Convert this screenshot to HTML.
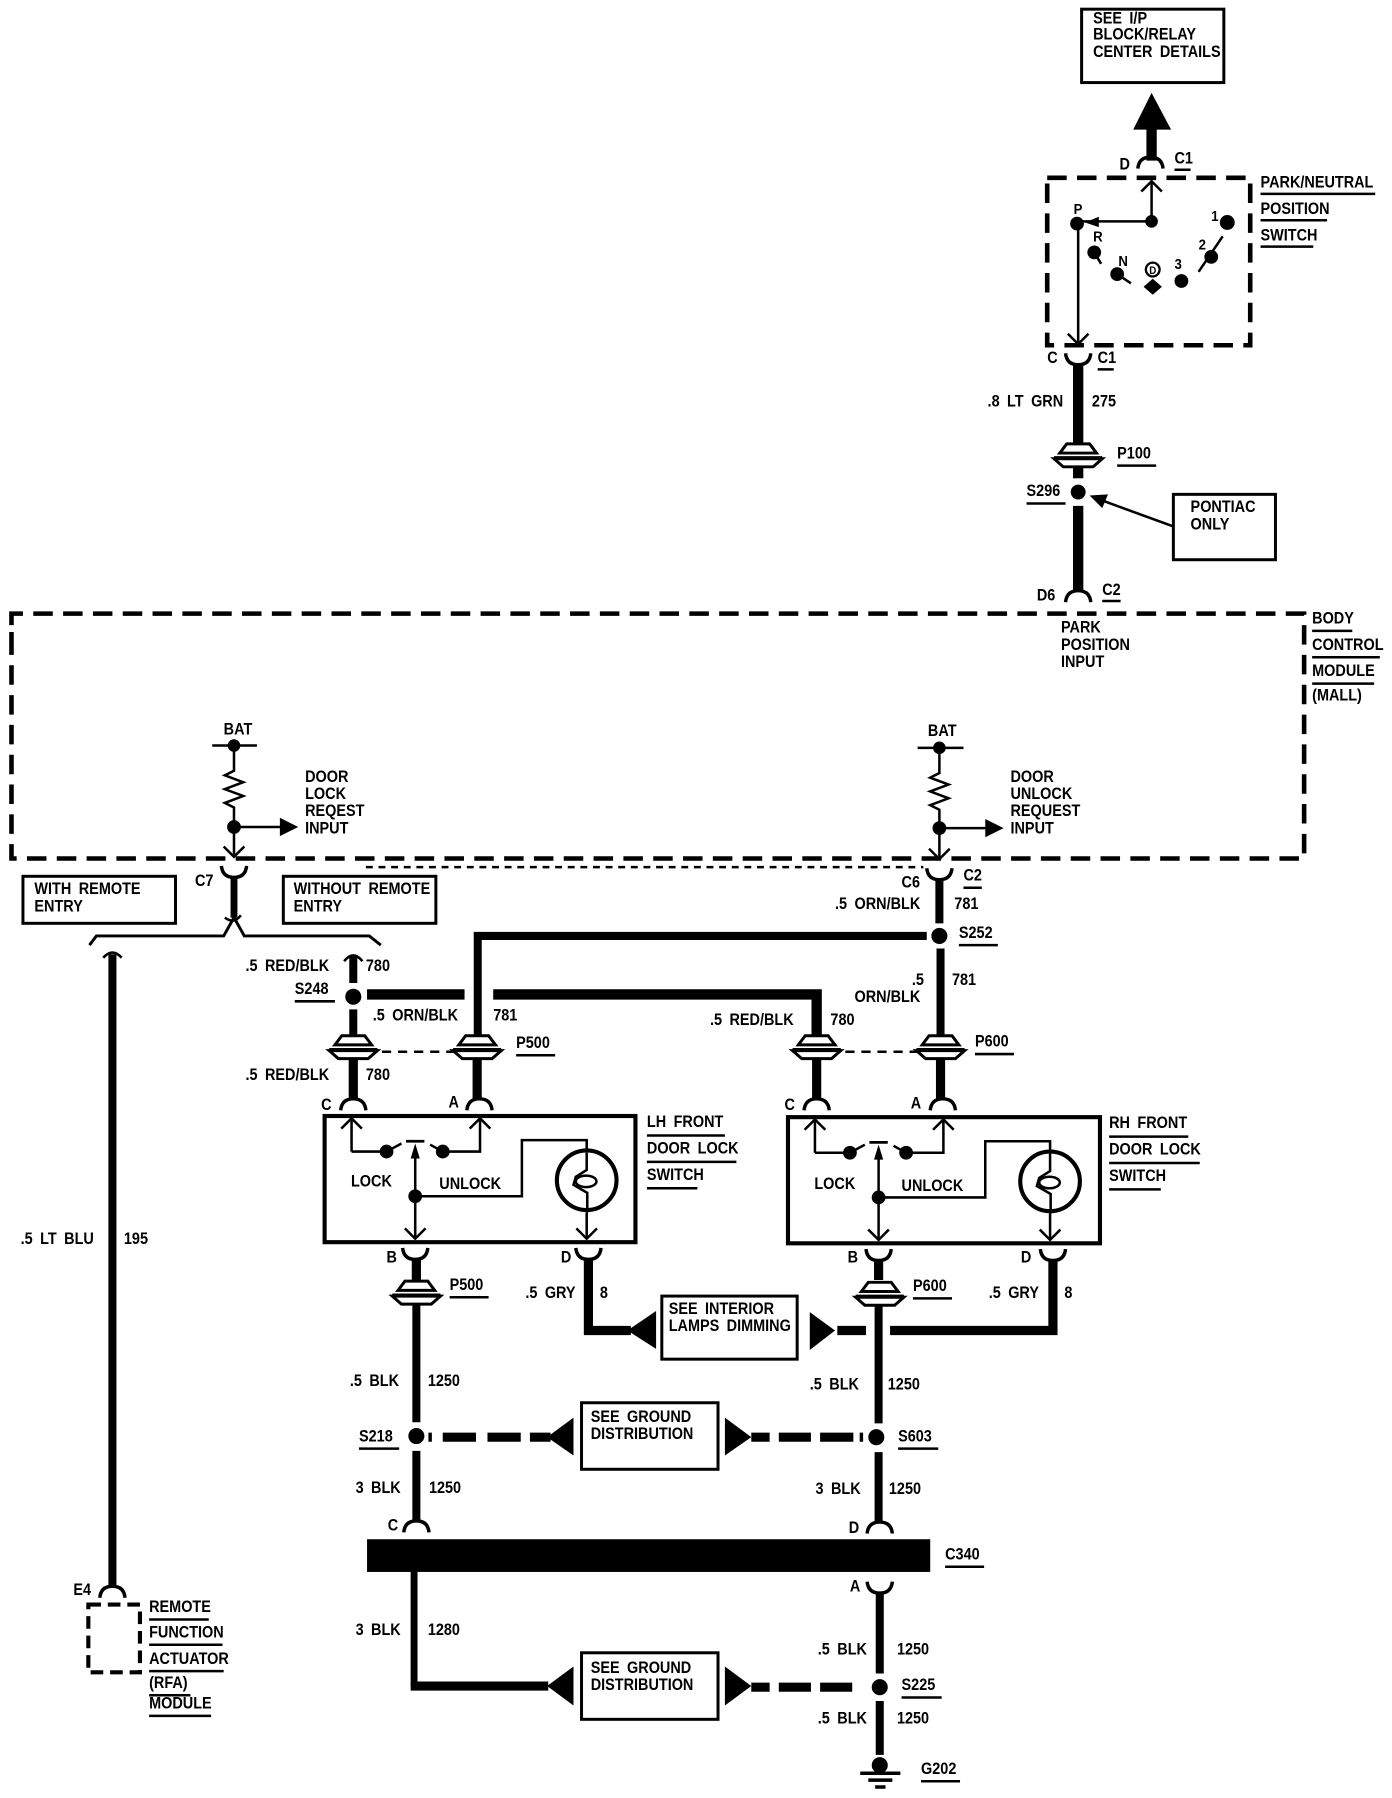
<!DOCTYPE html>
<html><head><meta charset="utf-8"><style>
html,body{margin:0;padding:0;background:#fff;width:1392px;height:1798px;overflow:hidden}
svg{display:block}
text{font-family:"Liberation Sans",sans-serif;font-weight:bold;font-size:12.6px;word-spacing:3px;fill:#000;transform-box:fill-box;transform-origin:left bottom;transform:scaleY(1.12)}
.w{fill:none;stroke:#000;stroke-linecap:butt;stroke-linejoin:miter}
.t{fill:none;stroke:#000;stroke-width:2.2}
.b{fill:#fff;stroke:#000;stroke-width:2.6}
</style></head><body>
<svg width="1392" height="1798" viewBox="0 0 1213.6 1567.6" xmlns="http://www.w3.org/2000/svg">
<defs>
<path id="a" d="M-11,9 Q-10,-1 0,-1 Q10,-1 11,9" fill="none" stroke="#000" stroke-width="3"/>
<path id="u" d="M-11,-9 Q-10,1 0,1 Q10,1 11,-9" fill="none" stroke="#000" stroke-width="3"/>
<g id="p"><rect x="-16" y="-10" width="32" height="20" fill="#fff"/>
<path d="M-16,-2 L-10,-10 H10 L16,-2 Z" fill="#fff" stroke="#000" stroke-width="2.6"/>
<path d="M-21,3 L-13,10 H13 L21,3 Z" fill="#fff" stroke="#000" stroke-width="2.6"/>
<path d="M-21,2 H21" stroke="#000" stroke-width="2.6"/></g>
<path id="au" d="M-9,9 L0,0 L9,9" fill="none" stroke="#000" stroke-width="2.2"/>
<path id="ad" d="M-9,-9 L0,0 L9,-9" fill="none" stroke="#000" stroke-width="2.2"/>
<g id="sw">
<path class="t" d="M306.500,1004 V975 M306.500,1004 H337 M337,1004 L350,997 M386,1004 L375,998 M386,1004 H418.500 V975"/>
<use href="#au" x="306.500" y="975"/><use href="#au" x="418.500" y="975"/>
<circle cx="337" cy="1004" r="6"/><circle cx="386" cy="1004" r="6"/>
<path d="M354,995 H370" stroke="#000" stroke-width="2.4"/>
<path d="M362,997 L358,1010 H366 Z"/>
<path class="t" d="M362,1005 V1079 M362,1043 H455 V994 H511.500 V1005 M511.500,1057 V1079"/>
<use href="#ad" x="362" y="1080"/><use href="#ad" x="511.500" y="1080"/>
<circle cx="362" cy="1043" r="6"/>
<circle cx="511.500" cy="1029" r="26" fill="none" stroke="#000" stroke-width="3.6"/>
<path class="t" d="M511.500,1005 V1020 L502,1026 L500,1033 L512,1040 V1057"/>
<ellipse cx="511" cy="1030" rx="9" ry="5" fill="none" stroke="#000" stroke-width="2.2"/>
</g>
</defs>

<!-- top box -->
<rect class="b" x="943" y="8" width="124" height="64"/>
<text x="953" y="21">SEE I/P</text><text x="953" y="35">BLOCK/RELAY</text><text x="953" y="50">CENTER DETAILS</text>
<path d="M1004,81 L988,113 H1021 Z"/>
<path class="w" stroke-width="9" d="M1004,110 V140"/>
<use href="#a" x="1003" y="138"/>
<text x="976" y="148">D</text><text x="1024" y="143">C1</text><path class="t" d="M1024,148 H1038"/>

<!-- park switch -->
<rect x="913" y="155" width="177" height="146" fill="none" stroke="#000" stroke-width="4" stroke-dasharray="17 9"/>
<path class="t" d="M1004,193 V158 M1004,193 H940 M940,195 L940,300"/>
<use href="#au" x="1004" y="158"/><use href="#ad" x="940" y="300"/>
<path d="M946,194 L958,189 V198 Z"/>
<circle cx="1004" cy="193" r="5.500"/><circle cx="939" cy="195" r="6"/>
<text x="936" y="187" style="font-size:11.5px">P</text>
<text x="953" y="211" style="font-size:11.5px">R</text><circle cx="954" cy="220" r="6"/><path class="t" d="M954,220 L960,230"/>
<text x="975" y="232" style="font-size:11.5px">N</text><circle cx="974" cy="239" r="6"/><path class="t" d="M974,239 L986,247"/>
<circle cx="1005" cy="235" r="6" fill="none" stroke="#000" stroke-width="2"/><text x="1002" y="239" style="font-size:8.5px">D</text>
<path d="M997,250 L1005,243 L1013,250 L1005,257 Z"/>
<text x="1024" y="235" style="font-size:11.5px">3</text><circle cx="1030" cy="245" r="6"/>
<text x="1045" y="218" style="font-size:11.5px">2</text><circle cx="1056" cy="224" r="6"/><path class="t" d="M1045,237 L1066,206"/>
<text x="1056" y="193" style="font-size:11.5px">1</text><circle cx="1070" cy="194" r="6.500"/>
<text x="1099" y="164">PARK/NEUTRAL</text><path class="t" d="M1099,169 H1199"/>
<text x="1099" y="187">POSITION</text><path class="t" d="M1099,192 H1157"/>
<text x="1099" y="210">SWITCH</text><path class="t" d="M1099,215 H1145"/>

<use href="#u" x="940" y="317"/>
<path class="w" stroke-width="9" d="M940,317 V386"/>
<text x="913" y="317">C</text><text x="957" y="317">C1</text><path class="t" d="M957,322 H971"/>
<text x="861" y="355">.8 LT GRN</text><text x="952" y="355">275</text>
<use href="#p" x="940" y="397"/>
<text x="974" y="400">P100</text><path class="t" d="M974,406 H1008"/>
<path class="w" stroke-width="9" d="M940,407 V417"/>
<circle cx="940" cy="429" r="6.500"/>
<text x="895" y="433">S296</text><path class="t" d="M895,439 H929"/>
<path class="t" d="M1023,459 L960,436"/><path d="M950,432 L966,431 L961,443 Z"/>
<rect class="b" x="1023" y="431" width="89" height="57"/>
<text x="1038" y="447">PONTIAC</text><text x="1038" y="462">ONLY</text>
<path class="w" stroke-width="9" d="M940,441 V516"/>
<use href="#a" x="940" y="516"/>
<text x="904" y="524">D6</text><text x="961" y="519">C2</text><path class="t" d="M961,524 H977"/>
<text x="925" y="552">PARK</text><text x="925" y="567">POSITION</text><text x="925" y="582">INPUT</text>

<!-- BCM -->
<path class="w" stroke-width="4" stroke-dasharray="17 9" d="M10,568 V535 H1137 V748.500 H10 V535"/>
<text x="1144" y="544">BODY</text><path class="t" d="M1144,550 H1179"/>
<text x="1144" y="567">CONTROL</text><path class="t" d="M1144,573 H1203"/>
<text x="1144" y="590">MODULE</text><path class="t" d="M1144,596 H1198"/>
<text x="1144" y="611">(MALL)</text>

<!-- left BAT -->
<text x="195" y="641">BAT</text>
<path class="t" d="M185,650 H224 M204,650 V672 L196,676 L212,682 L196,688 L212,694 L196,700 L204,704 V745 M204,721 H246"/>
<circle cx="204" cy="650" r="5.500"/><circle cx="204" cy="721" r="6"/>
<path d="M244,713 L260,721 L244,729 Z"/>
<use href="#ad" x="204" y="747"/>
<text x="266" y="682">DOOR</text><text x="266" y="697">LOCK</text><text x="266" y="712">REQEST</text><text x="266" y="727">INPUT</text>
<use href="#u" x="204" y="764"/>
<path class="w" stroke-width="6" d="M204,764 V800"/>
<path class="t" d="M196,800 Q204,806 210,798"/>
<text x="170" y="773">C7</text>
<rect class="b" x="20" y="764" width="133" height="41"/>
<text x="30" y="780">WITH REMOTE</text><text x="30" y="795">ENTRY</text>
<rect class="b" x="247" y="764" width="133" height="41"/>
<text x="256" y="780">WITHOUT REMOTE</text><text x="256" y="795">ENTRY</text>
<path class="w" stroke-width="2.600" d="M78,824 L84,816 H195 L204,800 L213,816 H322 L332,824"/>
<path class="t" d="M319,756 H805" stroke-dasharray="6 5"/>

<!-- left wire -->
<path class="w" stroke-width="7" d="M98,832 V1384"/>
<path class="t" d="M90,835 Q98,826 106,835"/>
<text x="18" y="1085">.5 LT BLU</text><text x="108" y="1085">195</text>
<use href="#a" x="98" y="1384"/>
<text x="64" y="1391">E4</text>
<rect x="77" y="1399" width="45" height="59" fill="none" stroke="#000" stroke-width="3.600" stroke-dasharray="11 6"/>
<text x="130" y="1406">REMOTE</text><path class="t" d="M130,1412 H182"/>
<text x="130" y="1428">FUNCTION</text><path class="t" d="M130,1434 H194"/>
<text x="130" y="1451">ACTUATOR</text><path class="t" d="M130,1457 H195"/>
<text x="130" y="1472">(RFA)</text><path class="t" d="M130,1478 H166"/>
<text x="130" y="1490">MODULE</text><path class="t" d="M130,1496 H184"/>

<!-- right BAT -->
<text x="809" y="642">BAT</text>
<path class="t" d="M800,652 H840 M819,652 V674 L811,678 L827,684 L811,690 L827,696 L811,702 L819,706 V747 M819,722 H862"/>
<circle cx="819" cy="652" r="5.500"/><circle cx="819" cy="722" r="6"/>
<path d="M859,714 L875,722 L859,730 Z"/>
<use href="#ad" x="819" y="749"/>
<text x="881" y="682">DOOR</text><text x="881" y="697">UNLOCK</text><text x="881" y="712">REQUEST</text><text x="881" y="727">INPUT</text>
<use href="#u" x="819" y="766"/>
<path class="w" stroke-width="7" d="M819,766 V805"/>
<text x="786" y="774">C6</text><text x="840" y="768">C2</text><path class="t" d="M840,774 H856"/>
<text x="728" y="793">.5 ORN/BLK</text><text x="832" y="793">781</text>
<circle cx="819" cy="816" r="7"/>
<text x="836" y="818">S252</text><path class="t" d="M836,824 H870"/>
<path class="w" stroke-width="7" d="M808,816 H416.500 V902"/>
<path class="w" stroke-width="7" d="M820,827 V903"/>
<text x="795" y="859">.5</text><text x="830" y="859">781</text><text x="745" y="874">ORN/BLK</text>

<!-- S248 -->
<path class="w" stroke-width="7" d="M308,834 V857 M308,880 V903"/>
<path class="t" d="M300,838 Q308,828 316,838"/>
<circle cx="308" cy="869" r="7"/>
<text x="214" y="847">.5 RED/BLK</text><text x="319" y="847">780</text>
<text x="257" y="867">S248</text><path class="t" d="M257,873 H292"/>
<path class="w" stroke-width="9" d="M320,867 H405"/>
<path class="w" stroke-width="9" d="M430,867 H712 V904"/>
<text x="325" y="890">.5 ORN/BLK</text><text x="430" y="890">781</text>
<text x="619" y="894">.5 RED/BLK</text><text x="724" y="894">780</text>
<use href="#p" x="308" y="913"/><use href="#p" x="416" y="913"/><use href="#p" x="712" y="913"/><use href="#p" x="820" y="913"/>
<path class="t" d="M333,917 H398 M737,917 H800" stroke-dasharray="8 6"/>
<text x="450" y="914">P500</text><path class="t" d="M450,920 H484"/>
<text x="850" y="913">P600</text><path class="t" d="M850,919 H884"/>
<text x="214" y="942">.5 RED/BLK</text><text x="319" y="942">780</text>
<path class="w" stroke-width="8" d="M308,924 V958 M416,924 V958 M712,924 V958 M820,924 V958"/>
<use href="#a" x="308" y="959"/><use href="#a" x="418" y="959"/><use href="#a" x="712" y="959"/><use href="#a" x="822" y="959"/>
<text x="280" y="968">C</text><text x="391" y="966">A</text><text x="684" y="968">C</text><text x="794" y="967">A</text>

<!-- switches -->
<rect x="283" y="973" width="271" height="110" fill="none" stroke="#000" stroke-width="3.600"/>
<use href="#sw"/>
<text x="306" y="1035">LOCK</text><text x="383" y="1037">UNLOCK</text>
<text x="564" y="983">LH FRONT</text><path class="t" d="M564,990 H632"/>
<text x="564" y="1006">DOOR LOCK</text><path class="t" d="M564,1013 H642"/>
<text x="564" y="1029">SWITCH</text><path class="t" d="M564,1036 H608"/>
<rect x="687" y="974" width="272" height="110" fill="none" stroke="#000" stroke-width="3.600"/>
<use href="#sw" x="404" y="1"/>
<text x="710" y="1037">LOCK</text><text x="786" y="1039">UNLOCK</text>
<text x="967" y="984">RH FRONT</text><path class="t" d="M967,991 H1036"/>
<text x="967" y="1007">DOOR LOCK</text><path class="t" d="M967,1014 H1046"/>
<text x="967" y="1030">SWITCH</text><path class="t" d="M967,1037 H1012"/>

<!-- below switches -->
<use href="#u" x="362" y="1097"/><use href="#u" x="513" y="1097"/><use href="#u" x="766" y="1098"/><use href="#u" x="918" y="1098"/>
<text x="337" y="1101">B</text><text x="489" y="1101">D</text><text x="739" y="1101">B</text><text x="890" y="1101">D</text>
<path class="w" stroke-width="8" d="M363,1097 V1116 M766,1098 V1116"/>
<use href="#p" x="363" y="1127"/><use href="#p" x="767" y="1128"/>
<text x="392" y="1125">P500</text><path class="t" d="M392,1131 H426"/>
<text x="796" y="1126">P600</text><path class="t" d="M796,1132 H830"/>
<text x="458" y="1132">.5 GRY</text><text x="523" y="1132">8</text>
<text x="862" y="1132">.5 GRY</text><text x="928" y="1132">8</text>
<path class="w" stroke-width="8" d="M513,1097 V1160 H550"/>
<path d="M547,1160 L572,1143 V1176 Z"/>
<rect class="b" x="577" y="1130" width="118" height="55"/>
<text x="583" y="1146">SEE INTERIOR</text><text x="583" y="1161">LAMPS DIMMING</text>
<path d="M706,1144 L728,1160 L706,1177 Z"/>
<path class="w" stroke-width="8" d="M730,1160 H755"/>
<path class="w" stroke-width="8" d="M776,1160 H918 V1098"/>

<path class="w" stroke-width="7" d="M363,1138 V1240 M363,1265 V1326"/>
<path class="w" stroke-width="7" d="M766,1139 V1241 M766,1266 V1327"/>
<text x="305" y="1209">.5 BLK</text><text x="373" y="1209">1250</text>
<text x="706" y="1212">.5 BLK</text><text x="774" y="1212">1250</text>
<circle cx="363" cy="1252" r="7"/><circle cx="764" cy="1253" r="7"/>
<text x="313" y="1257">S218</text><path class="t" d="M313,1263 H348"/>
<text x="783" y="1257">S603</text><path class="t" d="M783,1263 H818"/>
<path class="w" stroke-width="8" d="M386,1253 H415 M425,1253 H454 M462,1253 H480"/>
<path class="w" stroke-width="3" d="M375,1249 V1257 M751,1249 V1257"/>
<path d="M477,1253 L500,1236 V1269 Z"/>
<rect class="b" x="507" y="1223" width="119" height="58"/>
<text x="515" y="1240">SEE GROUND</text><text x="515" y="1255">DISTRIBUTION</text>
<path d="M632,1236 L655,1253 L632,1269 Z"/>
<path class="w" stroke-width="8" d="M655,1253 H671 M679,1253 H707 M715,1253 H744"/>
<text x="310" y="1302">3 BLK</text><text x="374" y="1302">1250</text>
<text x="711" y="1303">3 BLK</text><text x="775" y="1303">1250</text>
<use href="#a" x="363" y="1327"/><use href="#a" x="767" y="1328"/>
<text x="338" y="1335">C</text><text x="740" y="1337">D</text>
<rect x="320" y="1342" width="491" height="28.500"/>
<text x="824" y="1360">C340</text><path class="t" d="M824,1366 H858"/>
<path class="w" stroke-width="6" d="M361,1370 V1470"/>
<path class="w" stroke-width="8" d="M358,1470 H478"/>
<text x="310" y="1426">3 BLK</text><text x="373" y="1426">1280</text>
<path d="M477,1470 L500,1453 V1487 Z"/>
<rect class="b" x="507" y="1441" width="119" height="58"/>
<text x="515" y="1459">SEE GROUND</text><text x="515" y="1474">DISTRIBUTION</text>
<path d="M632,1453 L655,1470 L632,1487 Z"/>
<path class="w" stroke-width="8" d="M655,1471 H671 M679,1471 H707 M715,1471 H743"/>
<use href="#u" x="767" y="1388"/>
<text x="741" y="1388">A</text>
<path class="w" stroke-width="7" d="M767,1388 V1459 M767,1483 V1530"/>
<circle cx="767" cy="1471" r="7"/>
<text x="786" y="1474">S225</text><path class="t" d="M786,1480 H821"/>
<text x="713" y="1443">.5 BLK</text><text x="782" y="1443">1250</text>
<text x="713" y="1503">.5 BLK</text><text x="782" y="1503">1250</text>
<circle cx="767" cy="1539" r="7"/>
<path class="w" stroke-width="3" d="M750,1546 H785 M757,1552 H778 M763,1558 H772"/>
<text x="803" y="1547">G202</text><path class="t" d="M803,1553 H837"/>
</svg>
</body></html>
